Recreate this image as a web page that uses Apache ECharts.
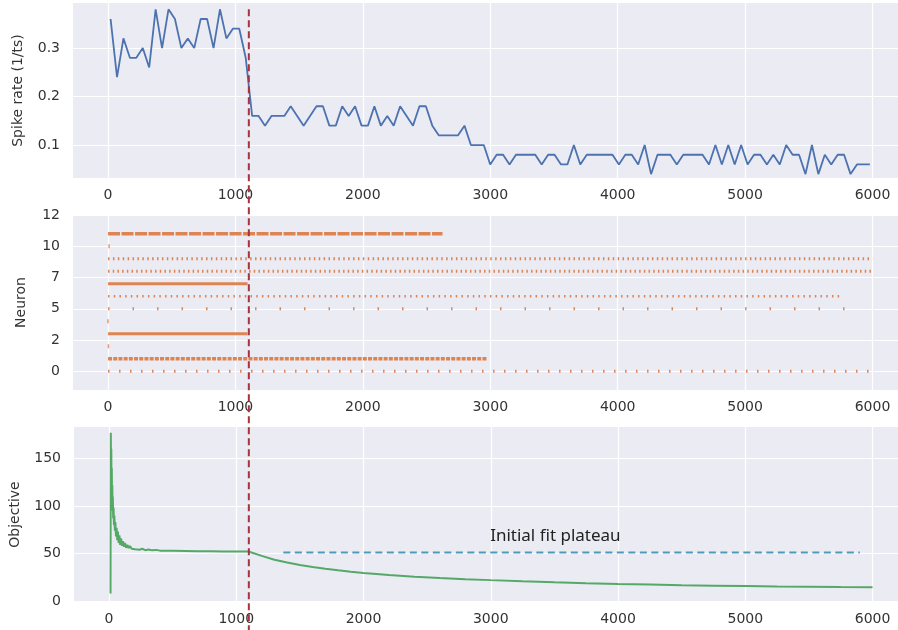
<!DOCTYPE html>
<html>
<head>
<meta charset="utf-8">
<script src="https://cdn.jsdelivr.net/npm/echarts@6/dist/echarts.min.js"></script>
<style>
html,body{margin:0;padding:0;background:#fff}
#main{width:898px;height:630px}
</style>
</head>
<body>
<div id="main"></div>
<script>
// spike rate (1/ts), one value per time bin
var rateStart = 20;
var rateStep = 50.5;
var rateValues = [
	0.36,0.24,0.32,0.28,0.28,0.30,0.26,0.38,0.30,0.38,
	0.36,0.30,0.32,0.30,0.36,0.36,0.30,0.38,0.32,0.34,
	0.34,0.28,0.16,0.16,0.14,0.16,0.16,0.16,0.18,0.16,
	0.14,0.16,0.18,0.18,0.14,0.14,0.18,0.16,0.18,0.14,
	0.14,0.18,0.14,0.16,0.14,0.18,0.16,0.14,0.18,0.18,
	0.14,0.12,0.12,0.12,0.12,0.14,0.10,0.10,0.10,0.06,
	0.08,0.08,0.06,0.08,0.08,0.08,0.08,0.06,0.08,0.08,
	0.06,0.06,0.10,0.06,0.08,0.08,0.08,0.08,0.08,0.06,
	0.08,0.08,0.06,0.10,0.04,0.08,0.08,0.08,0.06,0.08,
	0.08,0.08,0.08,0.06,0.10,0.06,0.10,0.06,0.10,0.06,
	0.08,0.08,0.06,0.08,0.06,0.10,0.08,0.08,0.04,0.10,
	0.04,0.08,0.06,0.08,0.08,0.04,0.06,0.06,0.06
];

var xTicks = [0,1000,2000,3000,4000,5000,6000];
var rateTicks = [0.1,0.2,0.3];
var neuronTicks = [0,2.5,5,7.5,10,12.5];
var objTicks = [0,50,100,150];

// raster: span of each neuron's spike train
var neuronIds  = [0,1,3,5,6,7,8,9,11];
var trainStart = [0,0,0,0,0,0,0,0,0];
var trainEnd   = [5990,2970,1095,5915,5770,1095,6000,6000,2625];
// lone spikes [time, neuron]
var singleSpikes = [[3,2],[0,4],[8,10]];

// objective
var objX = [12,14,16,18,20,22,24,26,28,30,33,36,39,42,46,50,55,60,65,70,
	76,82,88,95,102,110,118,126,135,145,155,165,178,190,205,220,240,260,285,310,
	340,370,400,500,600,700,800,900,1000,1100,1120,1200,1300,1400,1500,1600,1700,1800,1900,2000,
	2200,2400,2600,2800,3000,3250,3500,3750,4000,4250,4500,4750,5000,5250,5500,5750,6000];
var objY = [8,177,140,160,120,140,105,122,95,110,87,98,80,90,74,83,68,77,64,73,
	61,69,59,66,58,63,57,61,56,59,55.5,58,55,56.5,54.5,55.5,54,55,53.5,54.3,
	53.3,53.8,53,52.8,52.6,52.4,52.3,52.2,52.1,52,51,47.5,43.5,40.5,38,35.8,34,32.3,30.8,29.5,
	27.3,25.6,24.2,23,22,20.8,19.7,18.8,18,17.3,16.7,16.2,15.7,15.3,15,14.7,14.5];

var switchTime = 1105;
var plateauLevel = 51;
var plateauFrom = 1370;
var plateauTo = 5900;
var plateauText = 'Initial fit plateau';
var plateauTextAt = 2995;

var orange = '#dd8452';
// how each neuron's train is drawn (tick width / spacing)
var trainStyle = {
	0:{w:3,dash:[1.5,9.5]},
	1:{w:3.5,dash:[4,1.2]},
	3:{w:3,dash:'solid'},
	5:{w:3,dash:[1.5,23]},
	6:{w:2.5,dash:[1.5,4.2]},
	7:{w:3,dash:'solid'},
	8:{w:3,dash:[1.5,3.2]},
	9:{w:3,dash:[1.5,3.4]},
	11:{w:3.5,dash:[12,1.5]}
};

var font = 'DejaVu Sans';
var txt = '#333';

function xAxisFor(i){
	return {
		type:'value', gridIndex:i, min:-275, max:6200,
		axisLine:{show:false},
		axisTick:{show:false, customValues:xTicks},
		axisLabel:{customValues:xTicks, color:txt, fontSize:14, fontFamily:font, margin:10,
			formatter:function(v){ return String(v); }},
		splitLine:{show:true, lineStyle:{color:'#fff', width:1.2}}
	};
}
function yAxisFor(i,min,max,ticks,name,gap,fmt){
	return {
		type:'value', gridIndex:i, min:min, max:max,
		name:name, nameLocation:'middle', nameGap:gap,
		nameTextStyle:{color:txt, fontSize:14, fontFamily:font},
		axisLine:{show:false},
		axisTick:{show:false, customValues:ticks},
		axisLabel:{customValues:ticks, color:txt, fontSize:14, fontFamily:font, margin:13,
			formatter:fmt || function(v){ return String(v); }},
		splitLine:{show:true, lineStyle:{color:'#fff', width:1.2}}
	};
}

var rateData = rateValues.map(function(v,i){ return [rateStart + i*rateStep, v]; });
var objData = objX.map(function(x,i){ return [x, objY[i]]; });

var series = [];
series.push({
	type:'line', xAxisIndex:0, yAxisIndex:0, data:rateData,
	symbol:'none', lineStyle:{color:'#4c72b0', width:1.8}, silent:true
});
for(var k=0;k<neuronIds.length;k++){
	var n = neuronIds[k], st = trainStyle[n];
	series.push({
		type:'line', xAxisIndex:1, yAxisIndex:1,
		data:[[trainStart[k], n],[trainEnd[k], n]],
		symbol:'none', silent:true,
		lineStyle:{color:orange, width:st.w, type:st.dash, cap:'butt'}
	});
}
series.push({
	type:'scatter', xAxisIndex:1, yAxisIndex:1, data:singleSpikes,
	symbol:'rect', symbolSize:[1.5,4], itemStyle:{color:orange}, silent:true
});
series.push({
	type:'line', xAxisIndex:2, yAxisIndex:2, data:objData,
	symbol:'none', lineStyle:{color:'#55a868', width:2}, silent:true
});
series.push({
	type:'line', xAxisIndex:2, yAxisIndex:2,
	data:[[plateauFrom, plateauLevel],[plateauTo, plateauLevel]],
	symbol:'none', silent:true,
	lineStyle:{color:'#4c9cb8', width:2, type:[7,4.5]}
});

var gridBase = {left:73, width:825, height:175, show:true, backgroundColor:'#ebebf3', borderWidth:0};
var option = {
	animation:false,
	backgroundColor:'#fff',
	grid:[
		Object.assign({top:3}, gridBase),
		Object.assign({top:215}, gridBase),
		Object.assign({top:427}, gridBase)
	],
	xAxis:[xAxisFor(0), xAxisFor(1), xAxisFor(2)],
	yAxis:[
		yAxisFor(0, 0.032, 0.393, rateTicks, 'Spike rate (1/ts)', 48),
		yAxisFor(1, -1.5, 12.5, neuronTicks, 'Neuron', 45, function(v){ return String(Math.floor(v)); }),
		yAxisFor(2, -1, 183, objTicks, 'Objective', 52)
	],
	series:series
};

var chart = echarts.init(document.getElementById('main'));
chart.setOption(option);

// red dashed switch line across all three panels, and the plateau label
var vx = chart.convertToPixel({xAxisIndex:0}, switchTime);
var vTop = chart.convertToPixel({yAxisIndex:0}, 0.38);
var lx = chart.convertToPixel({xAxisIndex:2}, plateauTextAt);
var ly = chart.convertToPixel({yAxisIndex:2}, plateauLevel);
chart.setOption({
	graphic:[
		{type:'line', z:100, silent:true,
			shape:{x1:vx, y1:vTop, x2:vx, y2:630},
			style:{stroke:'#a8323e', lineWidth:2, lineDash:[7,4]}},
		{type:'text', z:100, silent:true, x:lx, y:ly-16,
			style:{text:plateauText, fill:'#222', font:'17px "Noto Sans"', textVerticalAlign:'middle'}}
	]
});
</script>
</body>
</html>
